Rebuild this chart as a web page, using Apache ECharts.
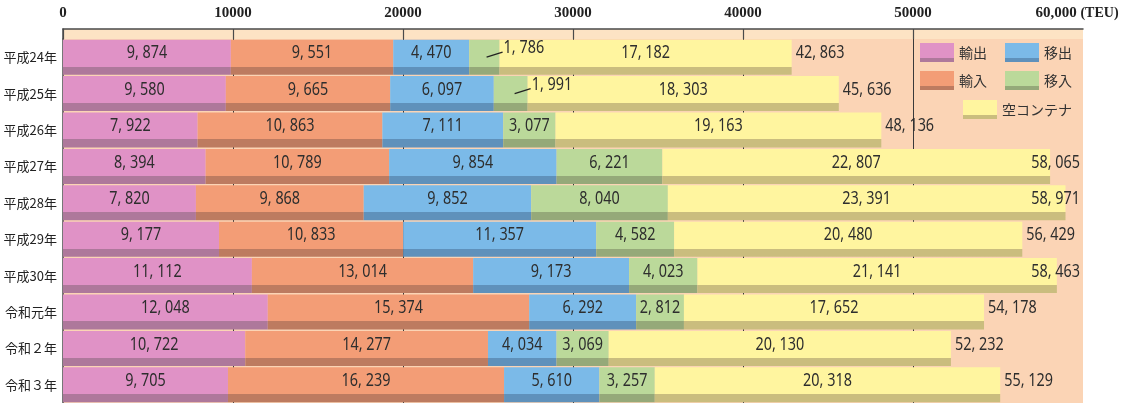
<!DOCTYPE html>
<html>
<head>
<meta charset="utf-8">
<script src="https://cdn.jsdelivr.net/npm/echarts@6/dist/echarts.min.js"></script>
<style>
html,body{margin:0;padding:0;background:#fff;}
#c{width:1122px;height:403px;}
</style>
</head>
<body>
<div id="c"></div>
<script>
// ---- data ----
const categories = ['平成24年','平成25年','平成26年','平成27年','平成28年','平成29年','平成30年','令和元年','令和２年','令和３年'];
const exportV   = [9874, 9580, 7922, 8394, 7820, 9177, 11112, 12048, 10722, 9705];   // 輸出
const importV   = [9551, 9665, 10863, 10789, 9868, 10833, 13014, 15374, 14277, 16239]; // 輸入
const outboundV = [4470, 6097, 7111, 9854, 9852, 11357, 9173, 6292, 4034, 5610];     // 移出
const inboundV  = [1786, 1991, 3077, 6221, 8040, 4582, 4023, 2812, 3069, 3257];      // 移入
const emptyV    = [17182, 18303, 19163, 22807, 23391, 20480, 21141, 17652, 20130, 20318]; // 空コンテナ
const totals    = [42863, 45636, 48136, 58065, 58971, 56429, 58463, 54178, 52232, 55129];
const xTicks    = [0, 10000, 20000, 30000, 40000, 50000, 60000];

// ---- styles ----
const numFont = "'Noto Sans','DejaVu Sans',sans-serif";
const numSize = 18;
const numScale = 0.8;
const cjkFont = "'Noto Sans CJK JP','Noto Sans',sans-serif";
const fmt = v => v.toLocaleString('en-US').replace(/,/g, ', ');

function twoTone(light, dark){
  return {type:'linear', x:0, y:0, x2:0, y2:1, colorStops:[
    {offset:0, color:light},{offset:0.77, color:light},
    {offset:0.77, color:dark},{offset:1, color:dark}]};
}
const palette = {
  '輸出': ['#e092c6', '#ae789b'],
  '輸入': ['#f39d76', '#bd7b60'],
  '移出': ['#7bbae8', '#5f91bb'],
  '移入': ['#bbd99a', '#95a979'],
  '空コンテナ': ['#fff59f', '#cabd7e']
};

const seriesDefs = [
  ['輸出', exportV], ['輸入', importV], ['移出', outboundV], ['移入', inboundV], ['空コンテナ', emptyV]
];
const SMALL = 2500;

const barSeries = seriesDefs.map(([name, arr]) => ({
  name, type:'bar', stack:'all', xAxisIndex:0, yAxisIndex:0,
  barWidth:35,
  data: arr,
  itemStyle:{color: twoTone(palette[name][0], palette[name][1])},
  emphasis:{disabled:true}
}));

// label anchor data for segment values: [centre value, category index, value]
const segLabels = [];
const smallData = [];
categories.forEach((c, i) => {
  let cum = 0;
  seriesDefs.forEach(([name, arr]) => {
    const v = arr[i];
    if (v < SMALL) smallData.push([cum + v, i, v]);
    else segLabels.push([cum + v / 2, i, v]);
    cum += v;
  });
});

const measureCtx = document.createElement('canvas').getContext('2d');
function textW(t){ measureCtx.font = numSize + 'px ' + numFont; return measureCtx.measureText(t).width * numScale; }
function numText(x, y, txt, align){
  return {type:'text', x:x, y:y, scaleX:numScale, scaleY:1,
    style:{text:txt, fill:'#2e2e2e', font: numSize + 'px ' + numFont, align:align, verticalAlign:'middle'}};
}

const chart = echarts.init(document.getElementById('c'), null, {renderer:'canvas'});

const legendText = {fontFamily:cjkFont, fontSize:14, color:'#333'};
const option = {
  animation:false,
  backgroundColor:'#fff',
  grid:[
    {left:63, right:39, top:39, height:370, show:true, backgroundColor:'#fbd4b5', borderWidth:0},
    {left:63, right:39, top:29, height:10, show:true, backgroundColor:'#fde3c4', borderWidth:0}
  ],
  legend:[
    {data:['輸出','移出'], left:920, top:43, padding:0, itemWidth:34, itemHeight:19, itemGap:18, icon:'rect',
     textStyle:legendText, selectedMode:false},
    {data:['輸入','移入'], left:920, top:71, padding:0, itemWidth:34, itemHeight:19, itemGap:18, icon:'rect',
     textStyle:legendText, selectedMode:false},
    {data:['空コンテナ'], left:963, top:100, padding:0, itemWidth:34, itemHeight:19, icon:'rect',
     textStyle:legendText, selectedMode:false}
  ],
  xAxis:[
    {type:'value', gridIndex:0, position:'top', min:0, max:60000, interval:10000,
     axisLine:{show:false}, axisTick:{show:false}, axisLabel:{show:false},
     splitLine:{show:true, showMinLine:false, showMaxLine:false, lineStyle:{color:'#3a3a3a', width:1}}},
    {type:'value', gridIndex:1, position:'top', min:0, max:60000, interval:10000,
     axisLine:{show:true, lineStyle:{color:'#4a4a4a', width:1.5}},
     axisTick:{show:true, inside:true, length:10, lineStyle:{color:'#4a4a4a', width:1.2},
               customValues: xTicks.slice(0, 6)},
     splitLine:{show:false},
     axisLabel:{show:true, margin:8, color:'#222', fontFamily:"'Liberation Serif','DejaVu Serif',serif",
        fontSize:15, fontWeight:'bold',
        formatter: v => v === 60000 ? '{a|60,000} {b|(TEU)}' : String(v),
        rich:{
          a:{fontFamily:"'Liberation Serif',serif", fontSize:15, fontWeight:'bold', color:'#222'},
          b:{fontFamily:"'Liberation Serif',serif", fontSize:14, color:'#222', padding:[0,12,0,0]}
        }}}
  ],
  yAxis:[
    {type:'category', gridIndex:0, data:categories, inverse:true,
     axisLine:{show:true, lineStyle:{color:'#4a4a4a', width:1.5}},
     axisTick:{show:false},
     axisLabel:{margin:6, color:'#222', fontFamily:cjkFont, fontSize:13, padding:[0,0,6,0]}},
    {type:'category', gridIndex:1, data:[''],
     axisLine:{show:true, lineStyle:{color:'#4a4a4a', width:1.5}},
     axisTick:{show:false}, axisLabel:{show:false}}
  ],
  series:[
    ...barSeries,
    {
      name:'値', type:'custom', xAxisIndex:0, yAxisIndex:0, silent:true, z:10,
      data: segLabels, encode:{x:0, y:1},
      renderItem:(params, api) => {
        const p = api.coord([api.value(0), api.value(1)]);
        return numText(p[0], p[1] - 4, fmt(api.value(2)), 'center');
      }
    },
    {
      name:'移入注', type:'custom', xAxisIndex:0, yAxisIndex:0, silent:true, z:10,
      data: smallData, encode:{x:0, y:1},
      renderItem:(params, api) => {
        const p = api.coord([api.value(0), api.value(1)]);
        return {type:'group', children:[
          {type:'line', shape:{x1:p[0]-13, y1:p[1], x2:p[0]+3, y2:p[1]-5},
           style:{stroke:'#222', lineWidth:1.3}},
          numText(p[0] + 4, p[1] - 9, fmt(api.value(2)), 'left')
        ]};
      }
    },
    {
      name:'合計', type:'custom', xAxisIndex:0, yAxisIndex:0, silent:true, z:10,
      data: totals.map((t, i) => [t, i]), encode:{x:0, y:1},
      renderItem:(params, api) => {
        const p = api.coord([api.value(0), api.value(1)]);
        const txt = fmt(api.value(0));
        const w = textW(txt);
        const rightLimit = params.coordSys.x + params.coordSys.width - 3;
        let x = p[0] + 4, align = 'left';
        if (x + w > rightLimit) { x = rightLimit; align = 'right'; }
        return numText(x, p[1] - 4, txt, align);
      }
    }
  ]
};
chart.setOption(option);
</script>
</body>
</html>
